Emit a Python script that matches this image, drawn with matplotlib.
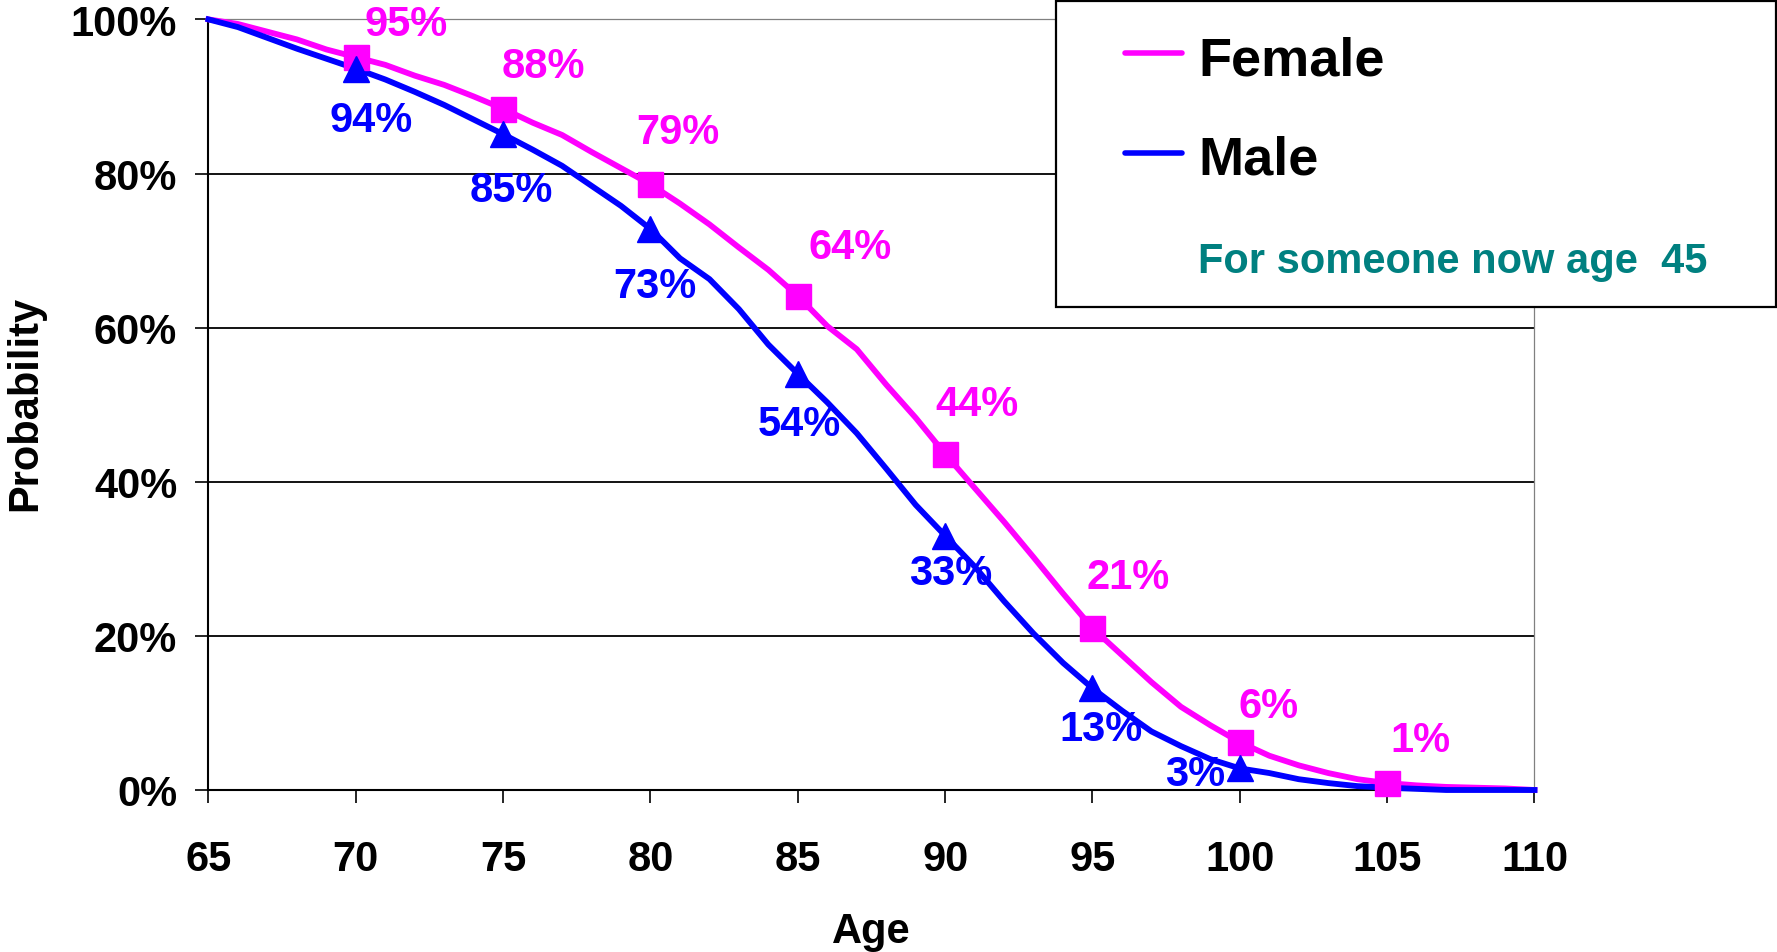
import numpy as np
import matplotlib
matplotlib.use("Agg")
import matplotlib.pyplot as plt
from matplotlib.lines import Line2D
from matplotlib.patches import Rectangle

plt.rcParams['font.family'] = ['Liberation Sans', 'DejaVu Sans']
plt.rcParams['font.weight'] = 'bold'

# survival probability (%) by age, someone now aged 45
ages = np.arange(65, 111)
female = [100.0, 99.4, 98.4, 97.4, 96.1, 95.1, 94.1, 92.7, 91.5, 90.0,
          88.4, 86.6, 85.0, 82.8, 80.7, 78.6, 76.1, 73.4, 70.4, 67.5,
          64.1, 60.2, 57.2, 52.6, 48.3, 43.6, 39.2, 34.8, 30.2, 25.5,
          21.0, 17.5, 14.0, 10.8, 8.4, 6.2, 4.45, 3.2, 2.2, 1.4,
          0.9, 0.6, 0.4, 0.3, 0.2, 0.0]
male = [100.0, 99.0, 97.6, 96.2, 94.9, 93.6, 92.2, 90.6, 88.9, 87.0,
        85.1, 83.1, 81.0, 78.4, 75.8, 72.8, 69.0, 66.3, 62.4, 57.8,
        54.0, 50.3, 46.3, 41.7, 37.0, 33.0, 29.0, 24.5, 20.3, 16.5,
        13.2, 10.3, 7.6, 5.7, 4.0, 2.8, 2.2, 1.4, 0.9, 0.5,
        0.3, 0.15, 0.0, 0.0, 0.0, 0.0]
female_marker_ages = [70, 75, 80, 85, 90, 95, 100, 105]
male_marker_ages = [70, 75, 80, 85, 90, 95, 100]
x_ticks = list(range(65, 111, 5))
y_ticks = [0, 20, 40, 60, 80, 100]

# label offsets in points (hand placed like the original)
female_offsets = [(36, 24), (29, 31), (20, 38), (38, 35), (23, 36), (26, 37), (21, 26), (24, 31)]
male_offsets = [(11, -37), (6, -40), (3, -41), (1, -36), (4, -27), (6, -29), (-32, -4)]

MAGENTA = '#FF00FF'
BLUE = '#0000FF'
TEAL = '#008080'
FS = 30

female = np.array(female)
male = np.array(male)

fig = plt.figure(figsize=(17.77, 9.53), dpi=100)
ax = fig.add_axes([0.11733, 0.16999, 0.74620, 0.80861])

ax.plot(ages, female, color=MAGENTA, lw=4.2, zorder=3, clip_on=False, solid_capstyle='projecting')
ax.plot(ages, male, color=BLUE, lw=4.2, zorder=3.1, clip_on=False, solid_capstyle='projecting')

f_idx = [list(ages).index(a) for a in female_marker_ages]
m_idx = [list(ages).index(a) for a in male_marker_ages]
ax.plot(ages[f_idx], female[f_idx], ls='none', marker='s', ms=18, mew=1,
        color=MAGENTA, zorder=4, clip_on=False)
ax.plot(ages[m_idx], male[m_idx], ls='none', marker='^', ms=19, mew=1,
        color=BLUE, zorder=4.1, clip_on=False)

for i, (dx, dy) in zip(f_idx, female_offsets):
    ax.annotate(f'{round(female[i])}%', (ages[i], female[i]), xytext=(dx, dy),
                textcoords='offset points', ha='center', va='center',
                fontsize=FS, fontweight='bold', color=MAGENTA, zorder=6,
                annotation_clip=False)
for i, (dx, dy) in zip(m_idx, male_offsets):
    ax.annotate(f'{round(male[i])}%', (ages[i], male[i]), xytext=(dx, dy),
                textcoords='offset points', ha='center', va='center',
                fontsize=FS, fontweight='bold', color=BLUE, zorder=6,
                annotation_clip=False)

ax.set_xlim(65, 110)
ax.set_ylim(0, 100)
ax.set_xticks(x_ticks)
ax.set_xticklabels([str(t) for t in x_ticks])
ax.set_yticks(y_ticks)
ax.set_yticklabels([f'{t}%' for t in y_ticks])
ax.tick_params(axis='x', direction='out', length=9.5, width=1.2, pad=26, labelsize=FS)
ax.tick_params(axis='y', direction='out', length=9.5, width=1.2, pad=13, labelsize=FS)

ax.grid(axis='y', color='black', lw=1.3, zorder=1)
ax.yaxis.get_gridlines()[-1].set_visible(False)
ax.yaxis.get_gridlines()[0].set_visible(False)

for side in ['left', 'bottom']:
    ax.spines[side].set_color('black')
    ax.spines[side].set_linewidth(1.5)
for side in ['top', 'right']:
    ax.spines[side].set_color('#808080')
    ax.spines[side].set_linewidth(0.9)

ax.set_xlabel('Age', fontsize=FS, fontweight='bold', va='center')
ax.xaxis.set_label_coords(0.5, -0.1825)
ax.set_ylabel('Probability', fontsize=FS, fontweight='bold', va='center')
ax.yaxis.set_label_coords(-0.1384, 0.503)

# legend box
fig.patches.append(Rectangle((0.5943, 0.6768), 0.4052, 0.3208, transform=fig.transFigure,
                             facecolor='white', edgecolor='black', lw=1.6, zorder=10))
fig.lines.append(Line2D([0.6331, 0.6652], [0.943, 0.943], transform=fig.transFigure,
                        color=MAGENTA, lw=4, solid_capstyle='round', zorder=11))
fig.lines.append(Line2D([0.6331, 0.6652], [0.838, 0.838], transform=fig.transFigure,
                        color=BLUE, lw=4, solid_capstyle='round', zorder=11))
fig.text(0.6742, 0.9213, 'Female', fontsize=39, fontweight='bold', va='baseline', zorder=12)
fig.text(0.6742, 0.8164, 'Male', fontsize=39, fontweight='bold', va='baseline', zorder=12)
fig.text(0.6742, 0.7132, 'For someone now age  45', fontsize=30, fontweight='bold',
         color=TEAL, va='baseline', zorder=12)

fig.savefig('out.png', dpi=100, facecolor='white')
